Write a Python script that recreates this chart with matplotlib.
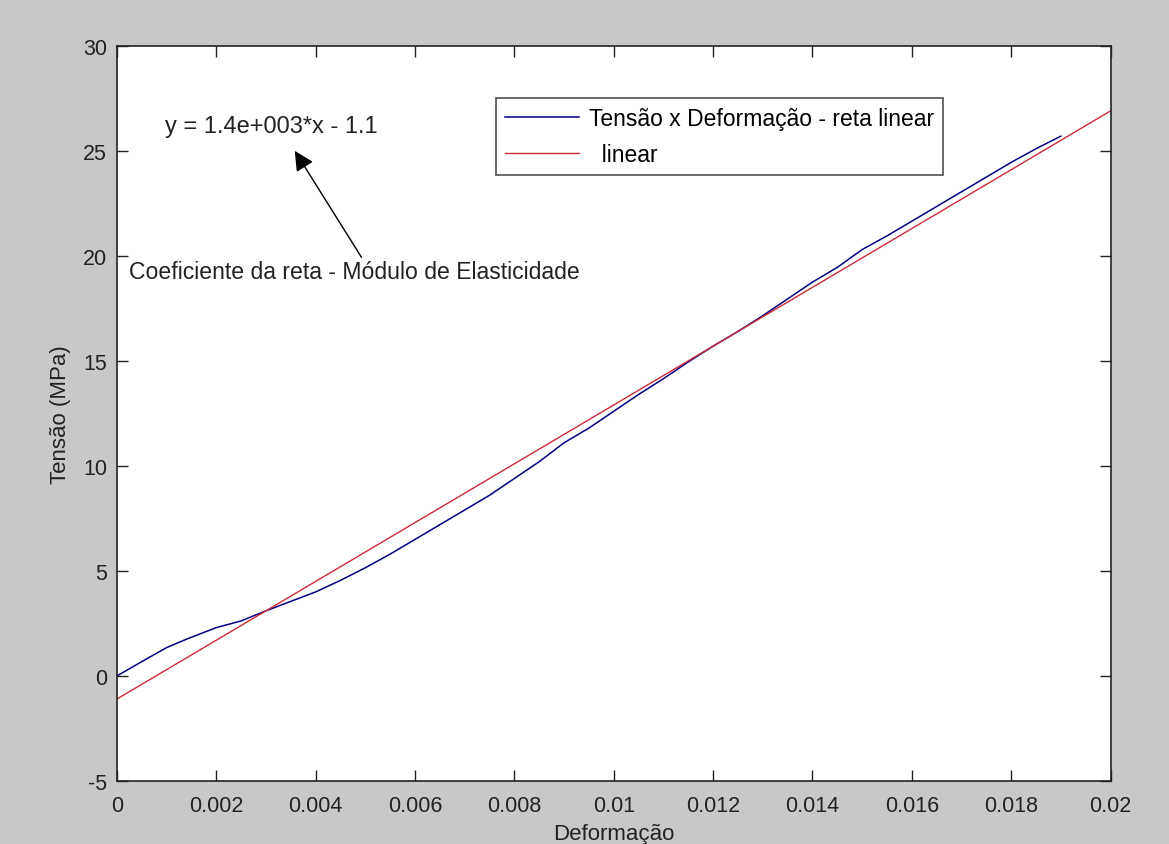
import numpy as np
import matplotlib.pyplot as plt

plt.rcParams["font.family"] = ["Liberation Sans", "DejaVu Sans"]
plt.rcParams["axes.unicode_minus"] = False

deformacao = [0.0, 0.0005, 0.0010, 0.0014, 0.0020, 0.0025, 0.0030, 0.0035, 0.0040,
              0.0045, 0.0050, 0.0055, 0.0060, 0.0065, 0.0070, 0.0075, 0.0080,
              0.0085, 0.0090, 0.0095, 0.0100, 0.0105, 0.0110, 0.0115, 0.0120,
              0.0125, 0.0130, 0.0135, 0.0140, 0.0145, 0.0150, 0.0155, 0.0160,
              0.0165, 0.0170, 0.0175, 0.0180, 0.0185, 0.0190]
tensao = [0.0, 0.68, 1.35, 1.75, 2.30, 2.62, 3.10, 3.55, 4.00,
          4.55, 5.15, 5.80, 6.50, 7.20, 7.90, 8.60, 9.40,
          10.20, 11.10, 11.80, 12.60, 13.40, 14.15, 14.95, 15.70,
          16.40, 17.15, 17.95, 18.75, 19.45, 20.30, 20.95, 21.65,
          22.35, 23.05, 23.75, 24.45, 25.10, 25.70]

# linear fit y = 1.4e3*x - 1.1
slope = 1.4e3
intercept = -1.1
x_fit = [0.0, 0.02]

xticks = [0, 0.002, 0.004, 0.006, 0.008, 0.01, 0.012, 0.014, 0.016, 0.018, 0.02]
xtick_labels = ["0", "0.002", "0.004", "0.006", "0.008", "0.01", "0.012",
                "0.014", "0.016", "0.018", "0.02"]
yticks = [-5, 0, 5, 10, 15, 20, 25, 30]

fig = plt.figure(figsize=(11.69, 8.45), dpi=100, facecolor="#c8c8c8")
ax = fig.add_axes([0.100, 0.0746, 0.850, 0.870])
ax.set_facecolor("white")

ax.plot(deformacao, tensao, color="#000080", linewidth=1.1,
        label="Tensão x Deformação - reta linear")
ax.plot(x_fit, [slope * v + intercept for v in x_fit], color="#cc2b36",
        linewidth=1.0, label="  linear")

ax.set_xlim(0, 0.02)
ax.set_ylim(-5, 30)
ax.set_xticks(xticks)
ax.set_xticklabels(xtick_labels)
ax.set_yticks(yticks)
ax.tick_params(direction="in", length=8, width=1, labelsize=15.5,
               top=True, right=True, colors="#222222")
ax.tick_params(axis="x", pad=10)
ax.tick_params(axis="y", pad=7)
for s in ax.spines.values():
    s.set_linewidth(1.2)
    s.set_color("#222222")

ax.set_xlabel("Deformação", fontsize=16, labelpad=5, color="#222222")
ax.set_ylabel("Tensão (MPa)", fontsize=16, labelpad=9, color="#222222")

ax.text(0.00097, 26.2, "y = 1.4e+003*x - 1.1", fontsize=17,
        ha="left", va="center", color="#222222")
ax.annotate("Coeficiente da reta - Módulo de Elasticidade",
            xy=(0.00358, 25.0), xytext=(0.00024, 19.25), fontsize=16.6,
            ha="left", va="center", color="#222222",
            arrowprops=dict(arrowstyle="-|>", color="black", linewidth=1,
                            mutation_scale=30,
                            shrinkA=0, shrinkB=0,
                            relpos=(0.52, 1.0)))

leg = ax.legend(loc="upper left", bbox_to_anchor=(0.382, 0.929),
                borderaxespad=0, fancybox=False, fontsize=16.5,
                handlelength=3.2, handletextpad=0.45, borderpad=0.38,
                labelspacing=0.6, edgecolor="#222222")
leg.get_frame().set_linewidth(1.2)

fig.savefig("out.png", dpi=100, facecolor=fig.get_facecolor())
